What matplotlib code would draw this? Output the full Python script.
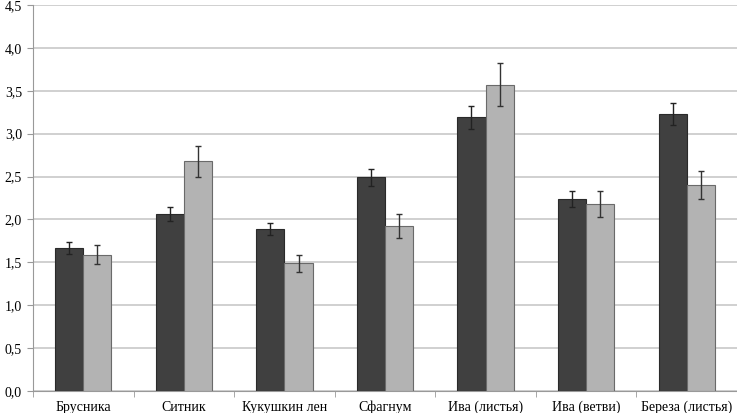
import numpy as np
import matplotlib.pyplot as plt
from matplotlib.ticker import FuncFormatter

# данные
categories = ['Брусника', 'Ситник', 'Кукушкин лен', 'Сфагнум', 'Ива (листья)', 'Ива (ветви)', 'Береза (листья)']
dark_vals = [1.67, 2.06, 1.89, 2.49, 3.19, 2.24, 3.23]
dark_err = [0.07, 0.08, 0.07, 0.10, 0.13, 0.09, 0.13]
light_vals = [1.59, 2.68, 1.49, 1.92, 3.57, 2.18, 2.40]
light_err = [0.11, 0.18, 0.10, 0.14, 0.25, 0.15, 0.16]

plt.rcParams['font.family'] = ['Liberation Serif', 'DejaVu Serif']

fig = plt.figure(figsize=(7.37, 4.13), dpi=100)
ax = fig.add_axes([33/737, 22/413, 704/737, 386/413])

x = np.arange(len(categories))
w = 0.28
ax.bar(x - w/2, dark_vals, w, color='#404040', edgecolor='#2a2a2a', linewidth=0.8, zorder=3,
       yerr=dark_err, error_kw=dict(ecolor='#222222', elinewidth=1, capsize=2.5, capthick=1))
ax.bar(x + w/2, light_vals, w, color='#b3b3b3', edgecolor='#6a6a6a', linewidth=0.8, zorder=3,
       yerr=light_err, error_kw=dict(ecolor='#333333', elinewidth=1, capsize=2.5, capthick=1))

ax.set_xlim(-0.5, len(categories) - 0.5)
ax.set_ylim(0, 4.5)
ax.set_yticks(np.arange(0, 4.51, 0.5))
ax.yaxis.set_major_formatter(FuncFormatter(lambda v, p: f'{v:.1f}'.replace('.', ',')))
ax.set_xticks(x)
ax.set_xticklabels(categories, fontsize=10)
ax.set_xticks(np.arange(-0.5, len(categories), 1), minor=True)
ax.tick_params(axis='x', which='major', length=0, pad=7)
ax.tick_params(axis='x', which='minor', length=4, color='#999999')
ax.tick_params(axis='y', length=4, color='#999999', labelsize=10, pad=4)

ax.grid(axis='y', color='#c8c8c8', linewidth=1.2, zorder=0)
for s in ['top', 'right']:
    ax.spines[s].set_visible(False)
ax.spines['left'].set_color('#999999')
ax.spines['bottom'].set_color('#999999')

plt.savefig('out.png', dpi=100)
